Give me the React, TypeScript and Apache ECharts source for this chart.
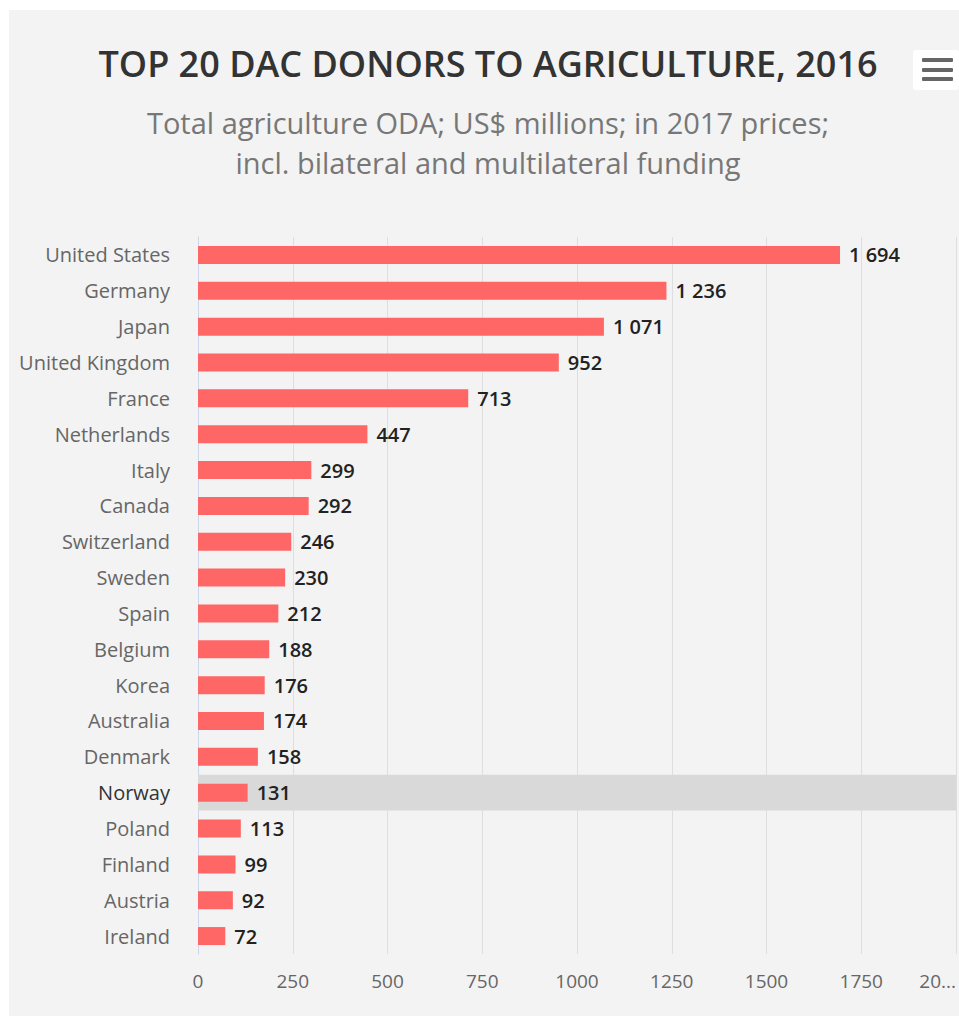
import React, { useEffect, useRef } from "react";
import * as echarts from "echarts";

const categories = [
  "United States", "Germany", "Japan", "United Kingdom", "France",
  "Netherlands", "Italy", "Canada", "Switzerland", "Sweden",
  "Spain", "Belgium", "Korea", "Australia", "Denmark",
  "Norway", "Poland", "Finland", "Austria", "Ireland",
];
const values = [
  1694, 1236, 1071, 952, 713,
  447, 299, 292, 246, 230,
  212, 188, 176, 174, 158,
  131, 113, 99, 92, 72,
];
const highlighted = "Norway";
const axisMin = 0;
const axisMax = 2000;
const axisStep = 250;
const titleText = "TOP 20 DAC DONORS TO AGRICULTURE, 2016";
const subtitleLines = [
  "Total agriculture ODA; US$ millions; in 2017 prices;",
  "incl. bilateral and multilateral funding",
];

const FONT = "'Open Sans', 'Noto Sans', sans-serif";

function fmtThousands(v: number): string {
  const s = String(Math.round(v));
  return s.replace(/\B(?=(\d{3})+(?!\d))/g, " ");
}

export default function App() {
  const ref = useRef<HTMLDivElement>(null);
  useEffect(() => {
    if (!ref.current) return;
    const chart = echarts.init(ref.current, undefined, { renderer: "svg" });
    const option: any = {
      animation: false,
      backgroundColor: "#f3f3f3",
      textStyle: { fontFamily: FONT },
      grid: { left: 189, right: 1, top: 227, bottom: 62, containLabel: false },
      xAxis: {
        type: "value",
        min: axisMin,
        max: axisMax,
        interval: axisStep,
        axisLine: { show: false },
        axisTick: { show: false },
        splitLine: { show: true, lineStyle: { color: "#dedede", width: 1 } },
        axisLabel: {
          color: "#666666",
          fontSize: 19,
          fontFamily: FONT,
          margin: 17,
          alignMaxLabel: "right",
          formatter: (v: number) => (v === axisMax ? "20..." : String(v)),
        },
      },
      yAxis: [
        {
          type: "category",
          data: categories,
          inverse: true,
          axisLine: { show: true, lineStyle: { color: "#ccd6eb", width: 1 } },
          axisTick: { show: false },
          splitLine: { show: false },
          axisLabel: {
            fontSize: 20,
            fontFamily: FONT,
            margin: 28,
            color: (v: string) => (v === highlighted ? "#333333" : "#666666"),
          },
        },
        {
          type: "category",
          data: categories,
          inverse: true,
          show: false,
        },
      ],
      series: [
        {
          type: "bar",
          yAxisIndex: 1,
          barWidth: "100%",
          silent: true,
          z: 1,
          itemStyle: { color: "#d9d9d9" },
          data: categories.map((c) => (c === highlighted ? axisMax : null)),
        },
        {
          type: "bar",
          yAxisIndex: 0,
          barWidth: 18,
          z: 2,
          itemStyle: { color: "#ff6666" },
          label: {
            show: true,
            position: "right",
            distance: 9,
            color: "#222222",
            fontSize: 20,
            fontWeight: 600,
            fontFamily: FONT,
            formatter: (p: any) => fmtThousands(p.value),
          },
          data: values,
        },
      ],
      graphic: [
        {
          type: "text",
          x: 479,
          y: 53,
          style: {
            text: titleText,
            fill: "#333333",
            font: `600 36px ${FONT}`,
            textAlign: "center",
            textVerticalAlign: "middle",
          },
        },
        {
          type: "text",
          x: 479,
          y: 112,
          style: {
            text: subtitleLines[0],
            fill: "#777777",
            font: `400 29px ${FONT}`,
            textAlign: "center",
            textVerticalAlign: "middle",
          },
        },
        {
          type: "text",
          x: 479,
          y: 152,
          style: {
            text: subtitleLines[1],
            fill: "#777777",
            font: `400 29px ${FONT}`,
            textAlign: "center",
            textVerticalAlign: "middle",
          },
        },
        {
          type: "group",
          x: 904,
          y: 40,
          children: [
            { type: "rect", shape: { x: 0, y: 0, width: 46, height: 40, r: 3 }, style: { fill: "#ffffff" } },
            { type: "rect", shape: { x: 9, y: 8, width: 31, height: 4, r: 1 }, style: { fill: "#666666" } },
            { type: "rect", shape: { x: 9, y: 18, width: 31, height: 4, r: 1 }, style: { fill: "#666666" } },
            { type: "rect", shape: { x: 9, y: 27, width: 31, height: 4, r: 1 }, style: { fill: "#666666" } },
          ],
        },
      ],
    };
    chart.setOption(option);
    return () => chart.dispose();
  }, []);
  return (
    <div style={{ position: "absolute", left: 0, top: 0, width: 959, height: 1016, background: "#ffffff" }}>
      <div
        ref={ref}
        style={{ position: "absolute", left: 9, top: 10, width: 950, height: 1006 }}
      />
    </div>
  );
}
